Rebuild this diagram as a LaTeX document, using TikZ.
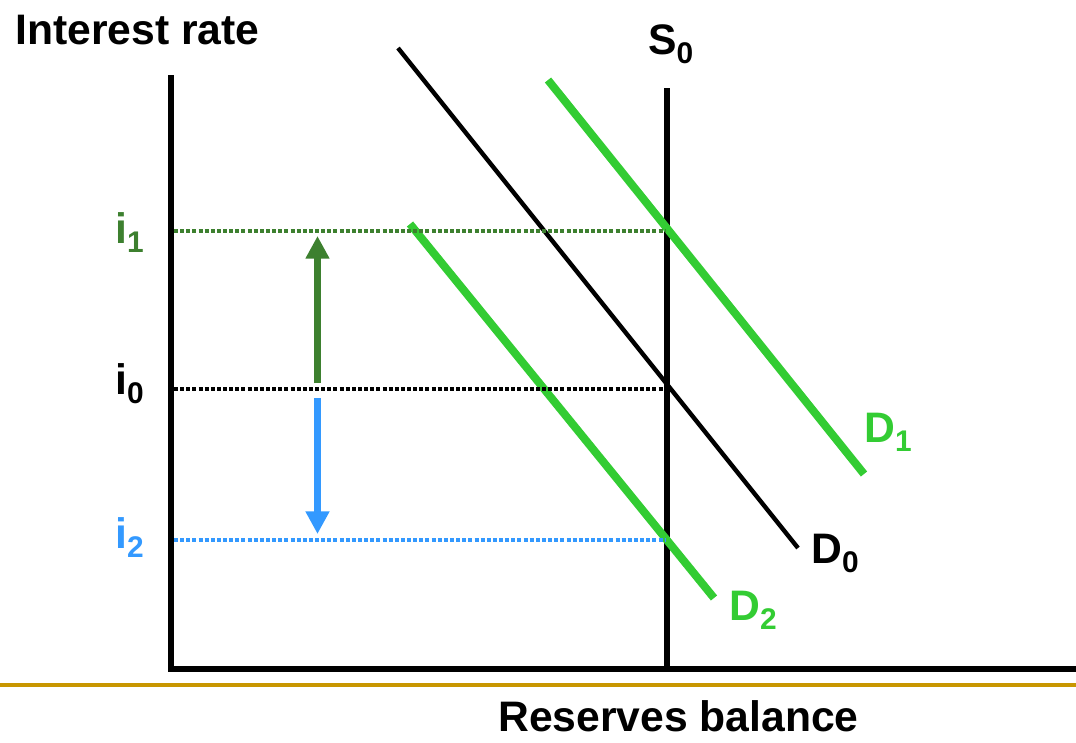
\documentclass[tikz,border=0pt]{standalone}
\usepackage{fontspec}
\setmainfont{Liberation Sans}
\usetikzlibrary{arrows.meta}
\definecolor{lgreen}{RGB}{51,204,51}
\definecolor{dgreen}{RGB}{61,128,47}
\definecolor{lblue}{RGB}{51,153,255}
\definecolor{goldline}{RGB}{200,150,0}
\begin{document}
\begin{tikzpicture}[x=0.75pt,y=-0.75pt,
  lbl/.style={font=\fontsize{32}{36}\selectfont\bfseries, inner sep=0pt, anchor=base west},
  axisline/.style={line width=4.5pt, black, line join=miter},
  supply/.style={line width=4.2pt, black},
  demand0/.style={line width=3.3pt, black},
  demandg/.style={line width=6pt, lgreen},
  level/.style={line width=3pt, dash pattern=on 3pt off 1.6pt},
  move/.style={line width=5.2pt, -{Triangle[width=17pt,length=17pt]}}]
\useasboundingbox (0,0) rectangle (1076,743);
% axes
\coordinate (ytop) at (171,75);
\coordinate (xend) at (1076,669);
\draw[axisline] (ytop) |- (xend);
\coordinate (g1) at (0,684.7);
\coordinate (g2) at (1076,684.7);
\draw[line width=3pt, goldline] (g1) -- (g2);
% supply
\coordinate (s0top) at (667,88);
\coordinate (s0bot) at (667,668);
\draw[supply] (s0top) -- (s0bot);
% demand curves
\coordinate (d0a) at (398,48);
\coordinate (d0b) at (798,548);
\draw[demand0] (d0a) -- (d0b);
\coordinate (d1a) at (548,80);
\coordinate (d1b) at (864,474);
\draw[demandg] (d1a) -- (d1b);
\coordinate (d2a) at (410,224);
\coordinate (d2b) at (714,598);
\draw[demandg] (d2a) -- (d2b);
% interest levels
\coordinate (l1a) at (174,231);
\coordinate (l1b) at (666,231);
\draw[level, dgreen] (l1a) -- (l1b);
\coordinate (l0a) at (174,389);
\coordinate (l0b) at (666,389);
\draw[level, black] (l0a) -- (l0b);
\coordinate (l2a) at (174,540);
\coordinate (l2b) at (666,540);
\draw[level, lblue] (l2a) -- (l2b);
% arrows
\coordinate (upfrom) at (317.5,383);
\coordinate (upto) at (317.5,236);
\draw[move, dgreen] (upfrom) -- (upto);
\coordinate (dnfrom) at (317.5,398);
\coordinate (dnto) at (317.5,534);
\draw[move, lblue] (dnfrom) -- (dnto);
% labels
\node[lbl] (ylab) at (15,44) {Interest rate};
\node[lbl] (xlab) at (498,731) {Reserves balance};
\node[lbl, dgreen] (i1) at (115,243) {i\textsubscript{1}};
\node[lbl, black] (i0) at (115,394) {i\textsubscript{0}};
\node[lbl, lblue] (i2) at (115,548) {i\textsubscript{2}};
\node[lbl] (s0) at (648,54) {S\textsubscript{0}};
\node[lbl] (dl0) at (811,563) {D\textsubscript{0}};
\node[lbl, lgreen] (dl1) at (864,442) {D\textsubscript{1}};
\node[lbl, lgreen] (dl2) at (729,620) {D\textsubscript{2}};
\end{tikzpicture}
\end{document}
